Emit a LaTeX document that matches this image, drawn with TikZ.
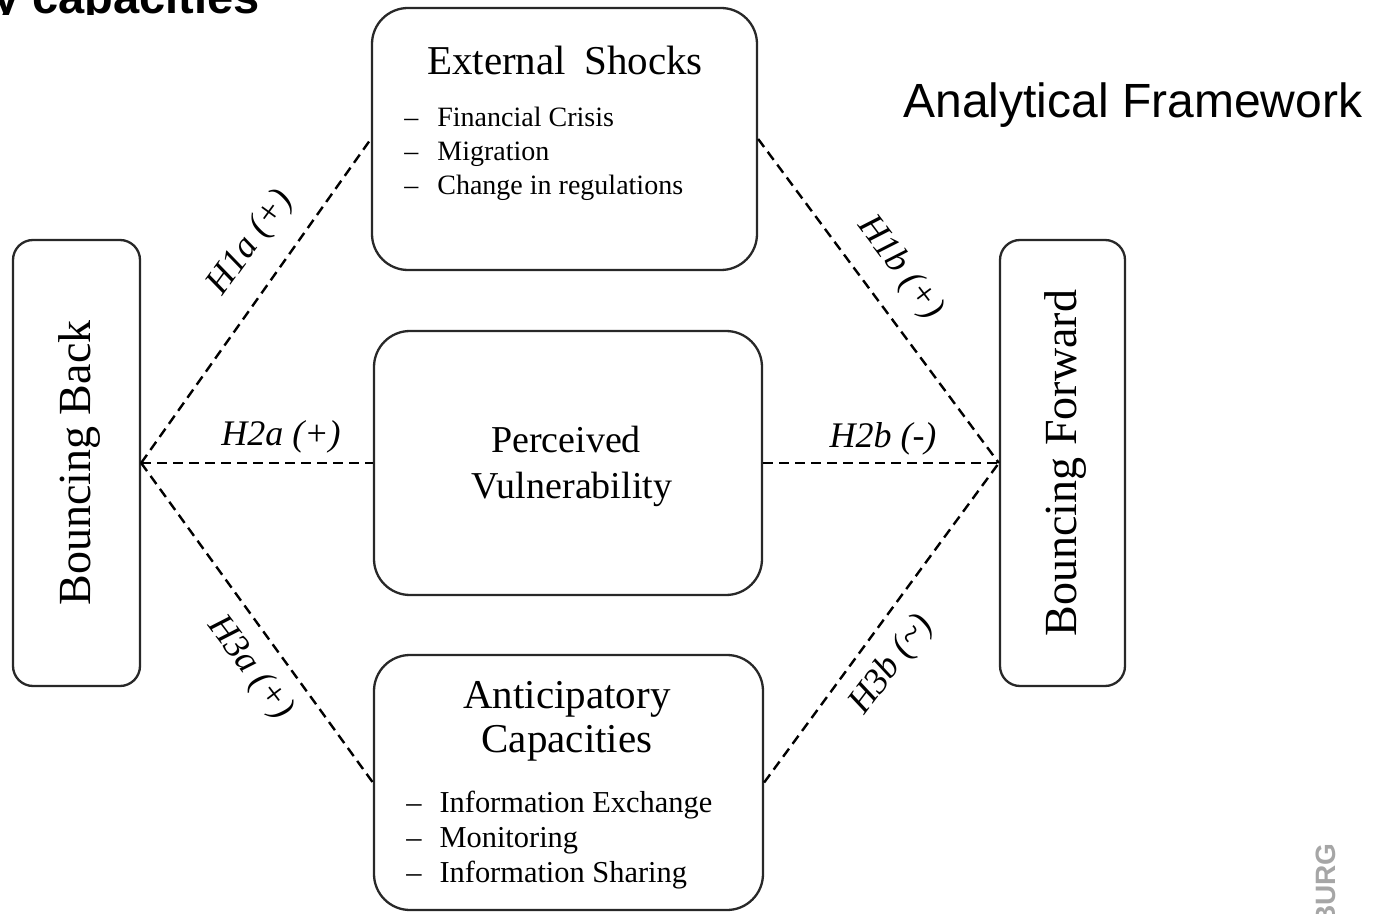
\documentclass[tikz,border=0pt]{standalone}
\usepackage{fontspec}
\setmainfont{Liberation Serif}
\newfontfamily\arialfont{Liberation Sans}
\begin{document}
\begin{tikzpicture}[x=0.5pt,y=-0.5pt,
  box/.style={draw={rgb,255:red,40;green,40;blue,40}, line width=1.15pt, rounded corners=18pt, inner sep=0pt},
  sidebox/.style={draw={rgb,255:red,40;green,40;blue,40}, line width=1.15pt, rounded corners=10pt, inner sep=0pt,
    minimum height=223pt},
  link/.style={dash pattern=on 5pt off 3pt, line width=1.2pt},
  hyp/.style={font=\fontsize{18}{20}\selectfont\itshape, inner sep=0pt},
  sidetext/.style={font=\fontsize{23}{26}\selectfont, inner sep=0pt, rotate=90},
  title/.style={font=\fontsize{20.5}{23}\selectfont, inner sep=0pt, anchor=base},
  itemlist/.style={inner sep=0pt, anchor=base west},
]
\useasboundingbox (0,0) rectangle (1381,914);

% slide header and footer fragments
\begin{scope}
  \clip (0,0) rectangle (420,14.5);
  \node[inner sep=0pt, anchor=base west,
        font=\arialfont\bfseries\fontsize{23.5}{26}\selectfont] (hdr) at (-7,14) {y capacities};
\end{scope}
\node[inner sep=0pt, anchor=base east, rotate=90, text={rgb,255:red,166;green,166;blue,166},
      font=\arialfont\bfseries\fontsize{14}{16}\selectfont] (logo) at (1335,843) {BURG};

\node[inner sep=0pt, anchor=base west, font=\arialfont\fontsize{24}{28}\selectfont]
  (framework) at (903,118) {Analytical Framework};

% outcome boxes
\node[sidebox, minimum width=63.5pt] (back) at (76.5,463) {};
\node[sidetext] (backtxt) at (80,463) {Bouncing Back};
\node[sidebox, minimum width=62.5pt] (fwd) at (1062.5,463) {};
\node[sidetext] (fwdtxt) at (1065,463) {Bouncing Forward};

% factor boxes
\node[box, minimum width=192.5pt, minimum height=131pt] (shocks) at (564.5,139) {};
\node[title] (shockstitle) at (565,75) {External\hspace{0.45em}Shocks};
\node[itemlist, font=\fontsize{14}{17}\selectfont] (shockslist) at (404,127)
  {\begin{tabular}[t]{@{}l@{\hspace{9.5pt}}l@{}}
   -- & Financial Crisis\\ -- & Migration\\ -- & Change in regulations
   \end{tabular}};

\node[box, minimum width=194pt, minimum height=132pt] (pv) at (568,463) {};
\node[title, font=\fontsize{19}{23}\selectfont] (pvtitle1) at (566,452) {Perceived};
\node[title, font=\fontsize{19}{23}\selectfont] (pvtitle2) at (572,498) {Vulnerability};

\node[box, minimum width=194.5pt, minimum height=127.5pt] (antic) at (568.5,782.5) {};
\node[title] (antictitle1) at (567,708) {Anticipatory};
\node[title] (antictitle2) at (567,752) {Capacities};
\node[itemlist, font=\fontsize{15.2}{17.5}\selectfont] (anticlist) at (406,812)
  {\begin{tabular}[t]{@{}l@{\hspace{9pt}}l@{}}
   -- & Information Exchange\\ -- & Monitoring\\ -- & Information Sharing
   \end{tabular}};

% hypothesised links
\draw[link] (back.east) -- (shocks.west);
\draw[link] (back.east) -- (pv.west);
\draw[link] (back.east) -- (antic.west);
\draw[link] (shocks.east) -- (fwd.west);
\draw[link] (pv.east) -- (fwd.west);
\draw[link] (antic.east) -- (fwd.west);

\node[hyp, rotate=54] (h1a) at (251,243) {H1a (+)};
\node[hyp, rotate=-53] (h1b) at (900,268) {H1b (+)};
\node[hyp, anchor=base] (h2a) at (281,445) {H2a (+)};
\node[hyp, anchor=base] (h2b) at (883,447) {H2b (-)};
\node[hyp, rotate=-53] (h3a) at (250,668) {H3a (+)};
\node[hyp, rotate=53] (h3b) at (892,665) {H3b (\textasciitilde)};
\end{tikzpicture}
\end{document}
